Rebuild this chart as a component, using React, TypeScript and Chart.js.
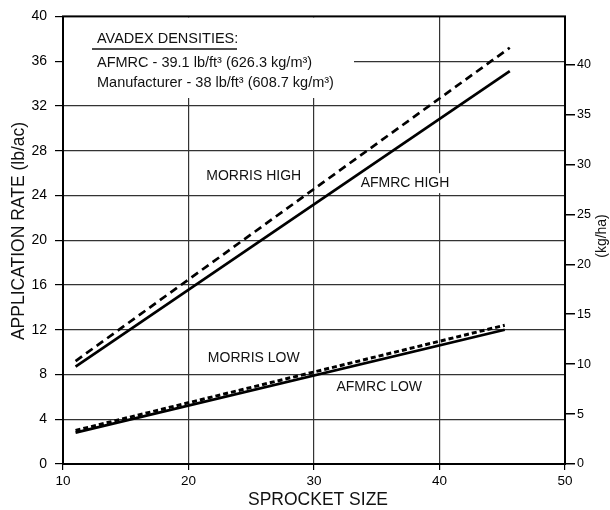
import React, { useEffect, useRef } from "react";
import { Chart, registerables } from "chart.js";

Chart.register(...registerables);

// ---- data ----
const highSprocket = [11, 45.6];
const lowSprocket = [11, 45.2];
const afmrcHigh = [8.7, 35.1];
const morrisHigh = [9.2, 37.2];
const afmrcLow = [2.8, 12.0];
const morrisLow = [3.0, 12.4];

const xTicks = [10, 20, 30, 40, 50];
const yTicks = [0, 4, 8, 12, 16, 20, 24, 28, 32, 36, 40];
const kgTicks = [0, 5, 10, 15, 20, 25, 30, 35, 40];
const LB_AC_TO_KG_HA = 1.12085;

const legendLines = [
  "AVADEX DENSITIES:",
  "AFMRC - 39.1 lb/ft\u00B3 (626.3 kg/m\u00B3)",
  "Manufacturer - 38 lb/ft\u00B3 (608.7 kg/m\u00B3)",
];

const seriesLabels = [
  { text: "MORRIS HIGH", x: 25.2, y: 25.7 },
  { text: "AFMRC HIGH", x: 37.25, y: 25.1 },
  { text: "MORRIS LOW", x: 25.2, y: 9.5 },
  { text: "AFMRC LOW", x: 35.2, y: 6.85 },
];

const FONT = "'Liberation Sans', Arial, Helvetica, sans-serif";

const toXY = (xs: number[], ys: number[]) => xs.map((x, i) => ({ x, y: ys[i] }));

const annotPlugin = {
  id: "annot",
  beforeDatasetsDraw(chart: any) {
    const { ctx, chartArea, scales } = chart;
    ctx.save();
    // legend box (white background covering grid)
    ctx.fillStyle = "#fff";
    ctx.fillRect(chartArea.left + 1, chartArea.top + 1, 353 - chartArea.left, 97 - chartArea.top);
    ctx.fillStyle = "#111";
    ctx.textBaseline = "alphabetic";
    ctx.textAlign = "left";
    ctx.font = `14.5px ${FONT}`;
    ctx.fillText(legendLines[0], 97, 43);
    ctx.strokeStyle = "#111";
    ctx.lineWidth = 1.5;
    ctx.beginPath();
    ctx.moveTo(92, 49);
    ctx.lineTo(237, 49);
    ctx.stroke();
    ctx.font = `14.5px ${FONT}`;
    ctx.fillText(legendLines[1], 97, 67);
    ctx.fillText(legendLines[2], 97, 87);

    // series labels
    ctx.font = `14px ${FONT}`;
    ctx.textAlign = "center";
    ctx.textBaseline = "middle";
    for (const l of seriesLabels) {
      const px = scales.x.getPixelForValue(l.x);
      const py = scales.y.getPixelForValue(l.y);
      const w = ctx.measureText(l.text).width;
      ctx.fillStyle = "#fff";
      ctx.fillRect(px - w / 2 - 4, py - 10, w + 8, 20);
      ctx.fillStyle = "#111";
      ctx.fillText(l.text, px, py);
    }
    ctx.restore();
  },
  afterDraw(chart: any) {
    const { ctx, chartArea } = chart;
    ctx.save();
    ctx.strokeStyle = "#000";
    ctx.lineWidth = 2;
    ctx.strokeRect(chartArea.left, chartArea.top, chartArea.right - chartArea.left, chartArea.bottom - chartArea.top);

    ctx.fillStyle = "#111";
    ctx.textAlign = "center";
    ctx.textBaseline = "middle";
    // x title
    ctx.font = `17.5px ${FONT}`;
    ctx.fillText("SPROCKET SIZE", 318, 500);
    // left y title
    ctx.save();
    ctx.translate(19, 231);
    ctx.rotate(-Math.PI / 2);
    ctx.font = `17.5px ${FONT}`;
    ctx.fillText("APPLICATION RATE (lb/ac)", 0, 0);
    ctx.restore();
    // right y title
    ctx.save();
    ctx.translate(602, 236);
    ctx.rotate(-Math.PI / 2);
    ctx.font = `14px ${FONT}`;
    ctx.fillText("(kg/ha)", 0, 0);
    ctx.restore();
    ctx.restore();
  },
};

export default function App() {
  const ref = useRef<HTMLCanvasElement | null>(null);
  useEffect(() => {
    if (!ref.current) return;
    const chart = new Chart(ref.current, {
      type: "line",
      data: {
        datasets: [
          {
            label: "AFMRC HIGH",
            data: toXY(highSprocket, afmrcHigh),
            borderColor: "#000",
            borderWidth: 2.7,
            pointRadius: 0,
            yAxisID: "y",
          },
          {
            label: "MORRIS HIGH",
            data: toXY(highSprocket, morrisHigh),
            borderColor: "#000",
            borderWidth: 2.7,
            borderDash: [8, 5],
            pointRadius: 0,
            yAxisID: "y",
          },
          {
            label: "AFMRC LOW",
            data: toXY(lowSprocket, afmrcLow),
            borderColor: "#000",
            borderWidth: 2.7,
            pointRadius: 0,
            yAxisID: "y",
          },
          {
            label: "MORRIS LOW",
            data: toXY(lowSprocket, morrisLow),
            borderColor: "#000",
            borderWidth: 3,
            borderDash: [5, 3],
            pointRadius: 0,
            yAxisID: "y",
          },
        ],
      },
      options: {
        animation: false,
        responsive: false,
        devicePixelRatio: 1,
        layout: { padding: { top: 14, left: 0, right: 0, bottom: 0 } },
        plugins: { legend: { display: false }, tooltip: { enabled: false } },
        scales: {
          x: {
            type: "linear",
            min: 10,
            max: 50,
            afterBuildTicks: (s: any) => {
              s.ticks = xTicks.map((v) => ({ value: v }));
            },
            afterFit: (s: any) => {
              s.height = 46;
            },
            ticks: {
              color: "#000",
              font: { family: FONT, size: 13.5 },
              padding: 3,
              maxRotation: 0,
              autoSkip: false,
            },
            grid: {
              color: (c: any) => (c.tick && (c.tick.value === 10 || c.tick.value === 50) ? "rgba(0,0,0,0)" : "#333"),
              lineWidth: 1.2,
              tickColor: "#000",
              tickLength: 6,
            },
            border: { display: false },
          },
          y: {
            type: "linear",
            position: "left",
            min: 0,
            max: 40,
            afterBuildTicks: (s: any) => {
              s.ticks = yTicks.map((v) => ({ value: v }));
            },
            afterFit: (s: any) => {
              s.width = 63;
            },
            ticks: {
              color: "#000",
              font: { family: FONT, size: 14 },
              padding: 8,
              autoSkip: false,
            },
            grid: {
              color: (c: any) => (c.tick && (c.tick.value === 0 || c.tick.value === 40) ? "rgba(0,0,0,0)" : "#333"),
              lineWidth: 1.2,
              tickColor: "#000",
              tickLength: 8,
            },
            border: { display: false },
          },
          y2: {
            type: "linear",
            position: "right",
            min: 0,
            max: 40 * LB_AC_TO_KG_HA,
            afterBuildTicks: (s: any) => {
              s.ticks = kgTicks.map((v) => ({ value: v }));
            },
            afterFit: (s: any) => {
              s.width = 45;
            },
            ticks: {
              color: "#000",
              font: { family: FONT, size: 12.5 },
              padding: 2,
              autoSkip: false,
            },
            grid: {
              drawOnChartArea: false,
              tickColor: "#000",
              tickLength: 10,
              lineWidth: 1.5,
            },
            border: { display: false },
          },
        },
      },
      plugins: [annotPlugin],
    } as any);
    return () => chart.destroy();
  }, []);
  return (
    <div style={{ position: "absolute", left: 0, top: 0, width: 610, height: 510, background: "#fff" }}>
      <canvas ref={ref} width={610} height={510} />
    </div>
  );
}
